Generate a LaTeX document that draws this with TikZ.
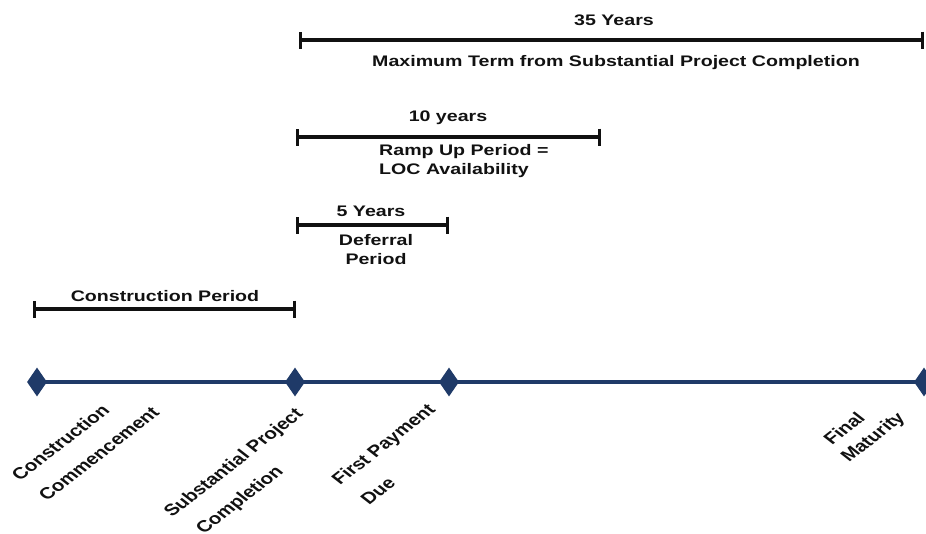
\documentclass[tikz,border=0pt]{standalone}
\usepackage{fontspec}
\setmainfont{Liberation Sans}
\usetikzlibrary{arrows.meta,shapes.geometric,backgrounds}
\definecolor{navy}{HTML}{1F3A68}
\definecolor{ink}{HTML}{111111}
\begin{document}
\begin{tikzpicture}[x=1pt,y=-1pt,
  lbl/.style={font=\bfseries\fontsize{19.6}{22}\selectfont, text=ink, inner sep=0pt, yscale=0.78},
  rlbl/.style={lbl, font=\bfseries\fontsize{20.6}{22}\selectfont, anchor=base west, rotate=45},
  span/.style={draw=ink, line width=3.2pt, {Bar[width=17pt,line width=3.2pt]}-{Bar[width=17pt,line width=3.2pt]}},
  mile/.style={diamond, fill=navy, inner sep=0pt, minimum width=20pt, minimum height=29pt}]
\useasboundingbox (0,0) rectangle (926,533);
% spans
\coordinate (a1) at (299,40);  \coordinate (a2) at (924,40);
\coordinate (b1) at (296,137); \coordinate (b2) at (601,137);
\coordinate (c1) at (296,225); \coordinate (c2) at (449,225);
\coordinate (e1) at (33,309);  \coordinate (e2) at (296,309);
\draw[span] (a1) -- (a2);
\draw[span] (b1) -- (b2);
\draw[span] (c1) -- (c2);
\draw[span] (e1) -- (e2);
\node[lbl] (t35) at (614,20) {35 Years};
\node[lbl] (tmax) at (616,63) {Maximum Term from Substantial Project Completion};
\node[lbl] (t10) at (448,118) {10 years};
\node[lbl, anchor=west] (tramp) at (379,152) {Ramp Up Period =};
\node[lbl, anchor=west] (tloc) at (379,171) {LOC Availability};
\node[lbl] (t5) at (371,211) {5 Years};
\node[lbl] (tdef) at (376,240) {Deferral};
\node[lbl] (tper) at (376,259) {Period};
\node[lbl] (tcon) at (165,296) {Construction Period};
% timeline
\node[mile] (d1) at (37,382) {};
\node[mile] (d2) at (295,382) {};
\node[mile] (d3) at (449,382) {};
\node[mile] (d4) at (924,382) {};
\begin{scope}[on background layer]
\draw[navy, line width=4pt] (d1.center) -- (d4.center);
\end{scope}
% milestone labels
\node[rlbl] (m1a) at (20,482) {Construction};
\node[rlbl] (m1b) at (47,502) {Commencement};
\node[rlbl] (m2a) at (172,518) {Substantial Project};
\node[rlbl] (m2b) at (204,535) {Completion};
\node[rlbl] (m3a) at (340,486) {First Payment};
\node[rlbl] (m3b) at (369,506) {Due};
\node[rlbl] (m4a) at (832,446) {Final};
\node[rlbl] (m4b) at (849,463) {Maturity};
\end{tikzpicture}
\end{document}
